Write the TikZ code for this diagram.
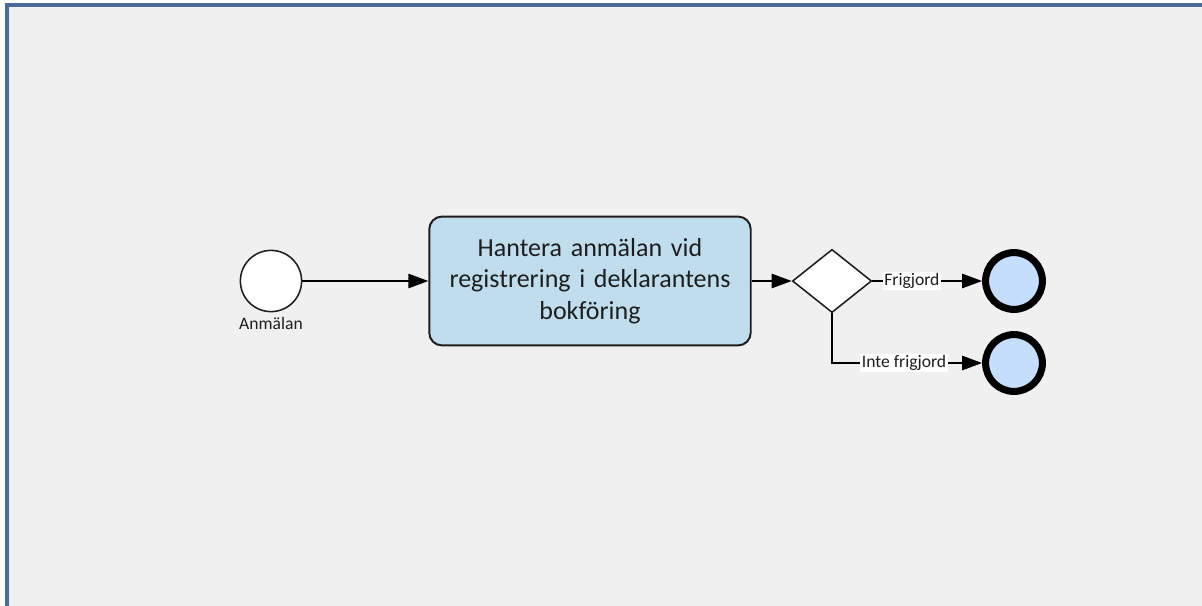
\documentclass[tikz,border=0pt]{standalone}
\usepackage{fontspec}
\setmainfont{Carlito}
\usepackage{tikz}
\usetikzlibrary{arrows.meta,shapes.geometric,positioning}
\definecolor{framebg}{HTML}{F0F0F0}
\definecolor{frameblue}{HTML}{4A6C9B}
\definecolor{taskblue}{HTML}{BFDDEC}
\definecolor{endblue}{HTML}{C4DEFB}
\definecolor{linegray}{HTML}{1E1E1E}

\tikzset{
  flow/.style={draw=black, line width=1.1pt, -{Triangle[length=0.5cm,width=0.36cm]}},
  flowlabel/.style={fill=white, inner sep=1pt, text=linegray, font=\fontsize{12.5}{14}\selectfont},
  startevent/.style={circle, draw=linegray, line width=1.1pt, fill=white,
    minimum size=1.53cm, inner sep=0pt},
  endevent/.style={circle, draw=black, line width=5pt, fill=endblue,
    minimum size=1.42cm, inner sep=0pt},
  taskbox/.style={rectangle, rounded corners=9pt, draw=linegray, line width=1.4pt,
    fill=taskblue, minimum width=8cm, minimum height=3.22cm, text width=7.8cm,
    align=center, text=linegray, font=\fontsize{18.5}{22.6}\selectfont},
  gateway/.style={diamond, draw=linegray, line width=1.1pt, fill=white,
    minimum width=1.98cm, minimum height=1.58cm, inner sep=0pt},
}

\begin{document}
\begin{tikzpicture}[x=0.025cm, y=-0.025cm]
  \useasboundingbox (0,0) rectangle (1202,605);
  \clip (0,0) rectangle (1202,605);
  \draw[frameblue, line width=2.2pt, fill=framebg] (7,5) rectangle (1230,630);

  \node[startevent] (start) at (271,281) {};
  \node[flowlabel, fill=none, below=2pt of start] (startlabel) {Anmälan};
  \node[taskbox] (task) at (590,281) {Hantera anmälan vid\\registrering i deklarantens\\bokföring};
  \node[gateway] (gw) at (832,281) {};
  \node[endevent] (frigjord) at (1014,281) {};
  \node[endevent] (intefrigjord) at (1014,363) {};

  \draw[flow] (start) -- (task);
  \draw[flow] (task) -- (gw);
  \draw[flow] (gw) -- node[flowlabel, pos=0.36] {Frigjord} (frigjord);
  \draw[flow] (gw.south) |- node[flowlabel, pos=0.74] {Inte frigjord} (intefrigjord);
\end{tikzpicture}
\end{document}
